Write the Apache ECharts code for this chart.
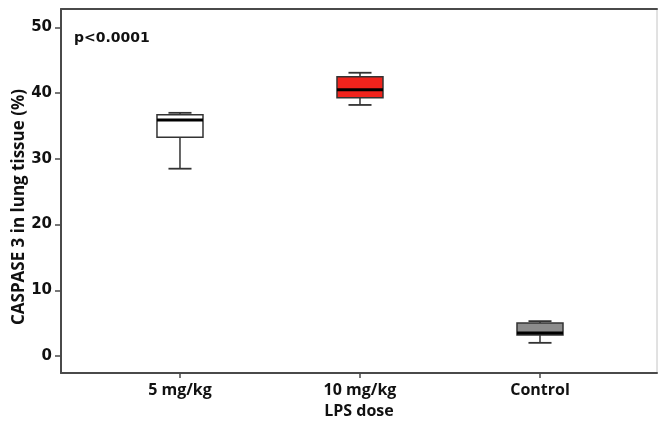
<!DOCTYPE html>
<html><head><meta charset="utf-8">
<script src="https://cdn.jsdelivr.net/npm/echarts@6/dist/echarts.min.js"></script>
<style>html,body{margin:0;padding:0;background:#fff}#c{width:658px;height:421px}</style>
</head><body><div id="c"></div>
<script>
const categories = ['5 mg/kg', '10 mg/kg', 'Control'];
const lowerWhisker = [28.5, 38.2, 2.0];
const q1 = [33.3, 39.3, 3.2];
const median = [35.9, 40.5, 3.5];
const q3 = [36.7, 42.5, 5.0];
const upperWhisker = [37.0, 43.1, 5.3];
const boxColors = ['#ffffff', '#f0231c', '#8c8c8c'];
const yTickValues = [0, 10, 20, 30, 40, 50];
const xTickValues = [0, 1, 2];
const yAxisTitle = 'CASPASE 3 in lung tissue (%)';
const xAxisTitle = 'LPS dose';
const pValueText = 'p<0.0001';

const data = categories.map((c, i) => [i, lowerWhisker[i], q1[i], median[i], q3[i], upperWhisker[i]]);

const chart = echarts.init(document.getElementById('c'), null, {renderer: 'canvas'});
const XMIN = -0.661, XMAX = 2.65;
chart.setOption({
  animation: false,
  backgroundColor: '#fff',
  grid: {left: 61, right: 1, top: 9, bottom: 48, show: true, borderColor: '#c4c4c4', borderWidth: 1,
    containLabel: false, outerBoundsMode: 'none'},
  xAxis: [{
    type: 'value', min: XMIN, max: XMAX, position: 'bottom',
    splitLine: {show: false},
    axisLine: {show: true, onZero: false, lineStyle: {color: '#4a4a4a', width: 2}},
    axisTick: {show: true, length: 5, customValues: xTickValues, lineStyle: {color: '#4a4a4a', width: 1.5}},
    axisLabel: {customValues: xTickValues, formatter: v => categories[Math.round(v)] || '', margin: 9,
      fontFamily: 'Open Sans', fontWeight: 'bold', fontSize: 16, color: '#111'},
    name: xAxisTitle, nameLocation: 'middle', nameGap: 30,
    nameTextStyle: {fontFamily: 'Open Sans', fontWeight: 'bold', fontSize: 16, color: '#111'}
  }, {
    type: 'value', min: XMIN, max: XMAX, position: 'top',
    splitLine: {show: false},
    axisLine: {show: true, onZero: false, lineStyle: {color: '#4a4a4a', width: 2}},
    axisTick: {show: false}, axisLabel: {show: false}
  }],
  yAxis: {
    type: 'value', min: -2.59, max: 52.8,
    splitLine: {show: false},
    axisLine: {show: true, onZero: false, lineStyle: {color: '#4a4a4a', width: 2}},
    axisTick: {show: true, length: 6, customValues: yTickValues, lineStyle: {color: '#4a4a4a', width: 1.5}},
    axisLabel: {customValues: yTickValues, margin: 9, fontFamily: 'DejaVu Sans', fontWeight: 'bold', fontSize: 15, color: '#111'}
  },
  graphic: [
    {type: 'text', x: 19, y: 207, rotation: Math.PI / 2,
      style: {text: yAxisTitle, font: 'bold 17px "Open Sans"', fill: '#111', textAlign: 'center', textVerticalAlign: 'middle'}},
    {type: 'text', x: 74, y: 38,
      style: {text: pValueText, font: 'bold 14px "DejaVu Sans"', fill: '#111', textAlign: 'left', textVerticalAlign: 'middle'}}
  ],
  series: [{
    type: 'custom',
    xAxisIndex: 0,
    data: data,
    renderItem: function (params, api) {
      const x = api.value(0);
      const pMin = api.coord([x, api.value(1)]);
      const pQ1 = api.coord([x, api.value(2)]);
      const pMed = api.coord([x, api.value(3)]);
      const pQ3 = api.coord([x, api.value(4)]);
      const pMax = api.coord([x, api.value(5)]);
      const bw = api.size([0.2556, 0])[0];
      const cw = api.size([0.128, 0])[0];
      const cx = pMed[0];
      const stroke = '#333';
      const color = boxColors[params.dataIndex];
      return {type: 'group', children: [
        {type: 'line', shape: {x1: cx, y1: pQ1[1], x2: cx, y2: pMin[1]}, style: {stroke: stroke, lineWidth: 1.5}},
        {type: 'line', shape: {x1: cx, y1: pQ3[1], x2: cx, y2: pMax[1]}, style: {stroke: stroke, lineWidth: 1.5}},
        {type: 'rect', shape: {x: cx - bw / 2, y: pQ3[1], width: bw, height: pQ1[1] - pQ3[1]}, style: {fill: color, stroke: stroke, lineWidth: 1.5}},
        {type: 'line', shape: {x1: cx - bw / 2, y1: pMed[1], x2: cx + bw / 2, y2: pMed[1]}, style: {stroke: '#000', lineWidth: 3}},
        {type: 'line', shape: {x1: cx - cw / 2, y1: pMin[1], x2: cx + cw / 2, y2: pMin[1]}, style: {stroke: stroke, lineWidth: 1.8}},
        {type: 'line', shape: {x1: cx - cw / 2, y1: pMax[1], x2: cx + cw / 2, y2: pMax[1]}, style: {stroke: stroke, lineWidth: 1.8}}
      ]};
    }
  }]
});
</script></body></html>
